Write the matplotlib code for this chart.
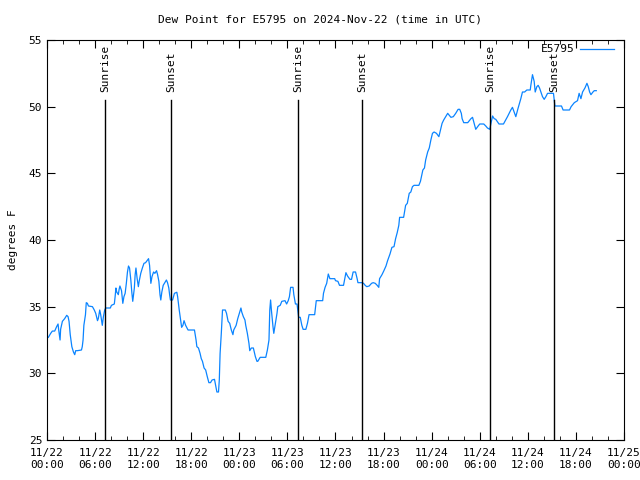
import numpy as np
import pandas as pd
import matplotlib
matplotlib.use("Agg")
import matplotlib.pyplot as plt
import matplotlib.dates as mdates

plt.rcParams['font.family'] = ['DejaVu Sans Mono']

start = pd.Timestamp("2024-11-22 00:00")

# hours after 11/22 00:00 UTC, and dew point (F)
hours = [0.17, 0.46, 0.67, 0.96, 1.2, 1.38, 1.46, 1.63, 1.7, 1.92, 2.2, 2.46, 2.63, 2.75, 2.9,
         3.1, 3.3, 3.46, 3.58, 3.8, 4.3, 4.4, 4.5, 4.6, 4.8, 4.9, 5.04, 5.17, 5.67, 5.9, 6.08,
         6.3, 6.4, 6.58, 6.7, 6.9, 7.04, 7.2, 7.33, 7.9, 8.04, 8.4, 8.5, 8.6, 8.7, 8.9, 9.0,
         9.1, 9.3, 9.46, 9.6, 9.75, 9.9, 10.04, 10.17, 10.3, 10.46, 10.58, 10.7, 10.9, 11.0,
         11.1, 11.25, 11.4, 11.5, 11.7, 11.9, 12.1, 12.3, 12.54, 12.67, 12.8, 12.96, 13.1,
         13.3, 13.46, 13.67, 13.8, 13.96, 14.1, 14.2, 14.33, 14.5, 14.7, 14.9, 15.04, 15.2,
         15.3, 15.4, 15.67, 15.9, 16.2, 16.3, 16.5, 16.7, 16.8, 16.96, 17.1, 17.3, 17.6, 18.4,
         18.6, 18.7, 18.9, 19.1, 19.25, 19.4, 19.6, 19.8, 20.0, 20.2, 20.4, 20.6, 20.9, 21.04,
         21.2, 21.4, 21.5, 21.6, 21.75, 21.9, 22.25, 22.4, 22.6, 22.8, 23.0, 23.2, 23.3, 23.6,
         23.8, 24.0, 24.2, 24.3, 24.5, 24.7, 24.8, 25.0, 25.2, 25.3, 25.5, 25.75, 26.0, 26.2,
         26.3, 26.6, 27.3, 27.5, 27.7, 27.8, 27.9, 28.0, 28.2, 28.3, 28.5, 28.7, 28.8, 29.1,
         29.3, 29.7, 29.9, 30.1, 30.25, 30.4, 30.7, 30.8, 31.0, 31.2, 31.3, 31.4, 31.6, 31.8,
         31.96, 32.3, 32.5, 32.7, 33.4, 33.6, 34.4, 34.5, 34.7, 34.9, 35.0, 35.1, 35.3, 35.9,
         36.0, 36.3, 36.5, 37.0, 37.3, 37.5, 37.8, 38.0, 38.2, 38.5, 38.7, 38.8, 39.3, 39.5,
         39.7, 39.9, 40.2, 40.5, 40.7, 40.96, 41.2, 41.4, 41.5, 41.8, 42.04, 42.3, 42.5, 42.8,
         43.04, 43.3, 43.5, 43.7, 43.9, 44.0, 44.5, 44.75, 44.96, 45.2, 45.4, 45.6, 45.8, 46.4,
         46.6, 46.9, 47.1, 47.25, 47.5, 47.7, 47.9, 48.1, 48.3, 48.6, 48.9, 49.1, 49.3, 49.5,
         49.75, 50.0, 50.4, 50.7, 51.0, 51.3, 51.5, 51.7, 51.8, 52.0, 52.5, 52.9, 53.1, 53.3,
         53.5, 53.8, 54.0, 54.5, 54.75, 54.96, 55.25, 55.4, 55.6, 55.8, 56.0, 56.4, 56.96,
         57.46, 57.875, 58.08, 58.29, 58.5, 58.79, 59.125, 59.33, 59.6, 59.875, 60.3, 60.375,
         60.58, 60.79, 60.92, 61.125, 61.29, 61.46, 61.625, 61.83, 62.04, 62.25, 62.46, 63.2,
         63.29, 63.375, 64.2, 64.4, 65.2, 65.4, 65.8, 66.2, 66.4, 66.625, 66.83, 67.125,
         67.375, 67.54, 67.71, 67.875, 68.125, 68.29, 68.54]
dewpoint = [32.7, 33.0, 33.17, 33.17, 33.5, 33.7, 33.25, 32.5, 33.3, 33.9, 34.1, 34.35, 34.25,
            33.9, 32.9, 32.0, 31.6, 31.4, 31.7, 31.7, 31.75, 32.0, 32.5, 33.6, 34.4, 35.3,
            35.25, 35.05, 35.0, 34.75, 34.5, 33.95, 34.1, 34.75, 34.4, 33.6, 34.25, 34.75, 34.9,
            34.9, 35.1, 35.2, 35.75, 36.4, 36.1, 35.9, 36.3, 36.55, 36.2, 35.25, 35.75, 36.0,
            36.75, 37.6, 38.05, 37.9, 37.0, 36.1, 35.4, 36.4, 37.4, 37.9, 37.1, 36.5, 36.9, 37.5,
            37.9, 38.25, 38.3, 38.5, 38.6, 38.1, 36.75, 37.25, 37.6, 37.5, 37.7, 37.4, 36.9,
            35.9, 35.5, 36.1, 36.6, 36.8, 37.0, 36.8, 36.4, 35.9, 35.5, 35.5, 36.0, 36.08, 35.75,
            34.75, 33.9, 33.45, 33.6, 33.95, 33.6, 33.25, 33.25, 32.5, 32.0, 31.9, 31.5, 31.1,
            30.9, 30.4, 30.25, 29.75, 29.3, 29.3, 29.5, 29.55, 29.1, 28.6, 28.6, 29.5, 31.5,
            33.0, 34.75, 34.75, 34.5, 33.9, 33.75, 33.25, 32.9, 33.25, 33.6, 34.1, 34.5, 34.9,
            34.6, 34.25, 34.0, 33.6, 33.0, 32.25, 31.7, 31.9, 31.9, 31.25, 30.9, 30.9, 31.2,
            31.2, 31.75, 32.5, 34.75, 35.5, 34.75, 33.5, 33.0, 33.75, 34.5, 35.0, 35.1, 35.4,
            35.45, 35.2, 35.45, 35.75, 36.45, 36.45, 35.9, 35.2, 35.2, 34.7, 34.2, 34.2, 33.6,
            33.3, 33.3, 33.75, 34.4, 34.4, 35.45, 35.45, 36.0, 36.45, 36.75, 37.1, 37.45, 37.1,
            37.1, 36.95, 36.9, 36.6, 36.6, 37.55, 37.3, 37.05, 37.05, 37.6, 37.6, 37.1, 36.8,
            36.8, 36.75, 36.6, 36.5, 36.55, 36.75, 36.8, 36.75, 36.6, 36.45, 37.1, 37.4, 37.7,
            38.05, 38.45, 38.95, 39.45, 39.5, 40.1, 40.55, 41.1, 41.7, 41.7, 42.6, 42.75, 43.5,
            43.6, 44.0, 44.1, 44.1, 44.4, 45.25, 45.4, 46.0, 46.6, 46.9, 47.5, 48.0, 48.1, 48.0,
            47.75, 48.25, 48.75, 49.0, 49.25, 49.5, 49.2, 49.25, 49.5, 49.8, 49.8, 49.5, 49.1,
            48.8, 48.8, 49.1, 49.2, 48.75, 48.3, 48.55, 48.7, 48.7, 48.55, 48.4, 48.3, 48.75,
            49.3, 49.1, 49.05, 48.7, 48.7, 49.25, 49.75, 49.95, 49.6, 49.25, 49.9, 50.6, 51.1,
            51.1, 51.25, 51.25, 51.6, 52.4, 51.9, 51.1, 51.5, 51.6, 51.4, 51.1, 50.75, 50.55,
            50.75, 51.0, 51.0, 50.5, 50.05, 50.05, 49.75, 49.75, 50.0, 50.3, 50.45, 51.0, 50.6,
            51.1, 51.4, 51.75, 51.5, 51.1, 50.9, 51.1, 51.2, 51.2]

sun_hours = [7.25, 15.45, 31.3, 39.3, 55.3, 63.3]
sun_labels = ["Sunrise", "Sunset", "Sunrise", "Sunset", "Sunrise", "Sunset"]

times = start + pd.to_timedelta(hours, unit="h")
sun_times = start + pd.to_timedelta(sun_hours, unit="h")

fig = plt.figure(figsize=(6.4, 4.8), dpi=100)
ax = fig.add_axes([47/640, 40/480, 577/640, 400/480])

ax.plot(times, dewpoint, color="#0a84ff", lw=0.9, label="E5795")

for t, lab in zip(sun_times, sun_labels):
    ax.plot([t, t], [25, 50.5], color="black", lw=1)
    ax.text(t, 51.1, lab, rotation=90, ha="center", va="bottom", fontsize=8)

ax.set_xlim(start, start + pd.Timedelta(hours=72))
ax.set_ylim(25, 55)
ax.set_yticks(np.arange(25, 56, 5))

ax.xaxis.set_major_locator(mdates.HourLocator(byhour=[0, 6, 12, 18]))
ax.xaxis.set_minor_locator(mdates.HourLocator(byhour=range(0, 24, 2)))
ax.xaxis.set_major_formatter(mdates.DateFormatter("%m/%d\n%H:%M"))

ax.tick_params(which="both", direction="in", top=True, right=True, labelsize=8)
ax.tick_params(which="major", length=6)
ax.tick_params(which="minor", length=3)
ax.tick_params(axis="x", pad=6)

ax.set_ylabel("degrees F", fontsize=8, labelpad=8)
fig.text(0.5, 1 - 19/480, "Dew Point for E5795 on 2024-Nov-22 (time in UTC)",
         ha="center", va="center", fontsize=8)

ax.legend(loc="upper right", frameon=False, fontsize=8, handlelength=3,
          markerfirst=False, borderaxespad=0.1, borderpad=0.3, handletextpad=0.5,
          bbox_to_anchor=(0.99, 1.0))

fig.savefig("out.png", dpi=100)
